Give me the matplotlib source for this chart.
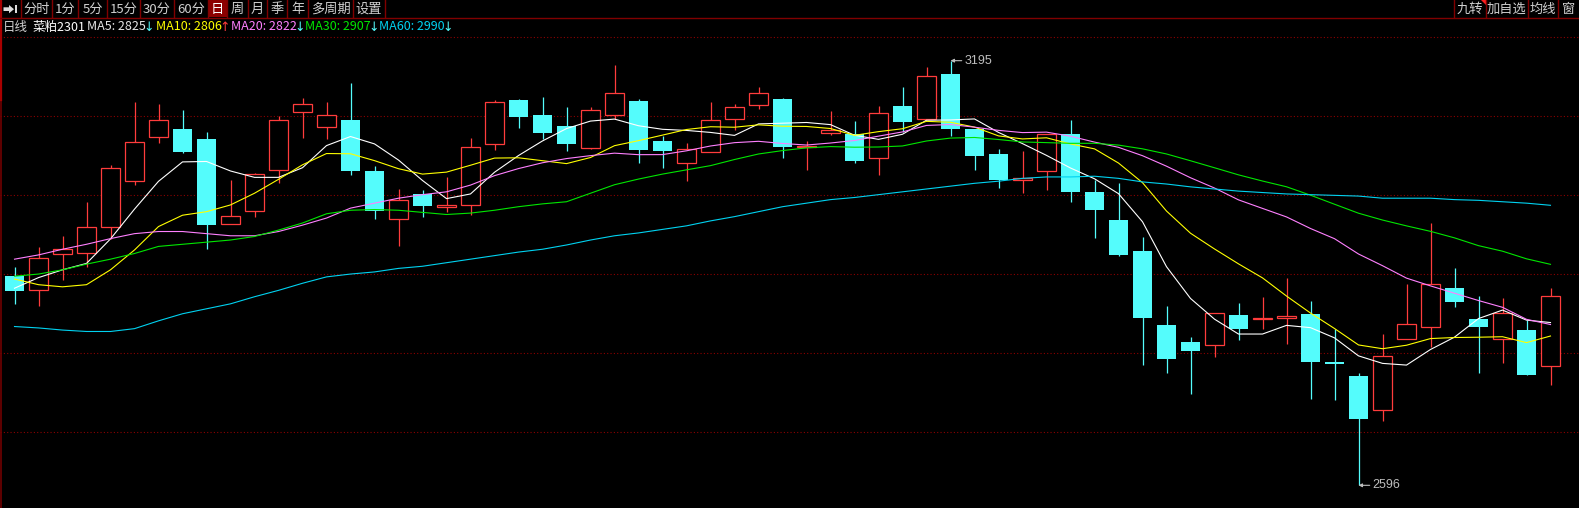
import matplotlib
matplotlib.use('Agg')
import matplotlib.pyplot as plt
import numpy as np
import pandas as pd
from matplotlib.patches import Rectangle, Polygon

plt.rcParams['font.family'] = ['Noto Sans CJK SC', 'DejaVu Sans']

# ---------------- data ----------------
opens = [2891, 2871, 2922, 2924, 2961, 3025, 3088, 3099, 3085, 2964,
         2983, 3041, 3122, 3102, 3111, 3039, 2971, 3007, 2988, 2992,
         3078, 3140, 3118, 3103, 3072, 3119, 3138, 3082, 3051, 3066,
         3113, 3132, 3141, 3073, 3093, 3092, 3058, 3131, 3113, 3176,
         3099, 3063, 3026, 3040, 3092, 3010, 2970, 2927, 2822, 2798,
         2794, 2836, 2831, 2832, 2838, 2770, 2750, 2702, 2802, 2819,
         2874, 2831, 2802, 2815, 2764]
highs = [2904, 2932, 2948, 2996, 3048, 3137, 3134, 3125, 3094, 3027,
         3037, 3117, 3142, 3136, 3164, 3046, 3014, 3013, 3031, 3086,
         3140, 3141, 3144, 3130, 3130, 3189, 3141, 3089, 3079, 3137,
         3134, 3158, 3142, 3082, 3124, 3110, 3131, 3158, 3186, 3195,
         3099, 3070, 3068, 3091, 3111, 3027, 3022, 2946, 2849, 2805,
         2839, 2853, 2862, 2888, 2856, 2816, 2755, 2810, 2880, 2966,
         2902, 2863, 2860, 2829, 2874]
lows = [2852, 2849, 2886, 2904, 2944, 3020, 3079, 3065, 2929, 2964,
        2974, 3022, 3086, 3085, 3034, 2971, 2933, 2975, 2982, 2978,
        3069, 3100, 3085, 3068, 3071, 3113, 3051, 3044, 3025, 3066,
        3097, 3127, 3058, 3041, 3090, 3051, 3034, 3094, 3113, 3089,
        3041, 3016, 3009, 3013, 2995, 2945, 2919, 2766, 2755, 2725,
        2777, 2801, 2816, 2796, 2718, 2717, 2596, 2687, 2802, 2791,
        2847, 2755, 2769, 2752, 2737]
closes = [2870, 2916, 2929, 2960, 3043, 3080, 3112, 3066, 2963, 2976,
          3035, 3112, 3134, 3119, 3040, 2983, 2998, 2990, 2991, 3073,
          3136, 3116, 3093, 3078, 3126, 3150, 3069, 3068, 3070, 3112,
          3129, 3150, 3073, 3075, 3097, 3054, 3121, 3109, 3174, 3099,
          3061, 3026, 3030, 3091, 3010, 2985, 2921, 2832, 2774, 2786,
          2839, 2816, 2832, 2835, 2770, 2767, 2689, 2779, 2823, 2880,
          2854, 2820, 2839, 2752, 2863]

# moving-average values before a full window exists
ma5_head = [2874, 2889, 2900, 2909]
ma10_head = [2887, 2879, 2876, 2879, 2900, 2928, 2961, 2977, 2982]
ma20_head = [2915, 2921, 2929, 2936, 2944, 2951, 2954, 2954, 2951, 2948,
             2948, 2954, 2963, 2973, 2987, 2994, 3001, 3006, 3010]
ma30_head = [2891, 2894, 2900, 2908, 2915, 2923, 2933, 2936, 2939, 2942,
             2947, 2956, 2966, 2979, 2984, 2985, 2984, 2981, 2978, 2980,
             2984, 2989, 2993, 2996, 3008, 3020, 3028, 3035, 3041]
ma60 = [2820, 2818, 2815, 2813, 2813, 2817, 2828, 2838, 2845, 2852,
        2862, 2871, 2881, 2890, 2894, 2897, 2902, 2905, 2910, 2915,
        2920, 2925, 2929, 2935, 2942, 2948, 2952, 2957, 2962, 2969,
        2975, 2982, 2989, 2994, 2999, 3002, 3006, 3010, 3014, 3018,
        3022, 3025, 3029, 3031, 3031, 3032, 3029, 3024, 3021, 3017,
        3014, 3011, 3009, 3007, 3006, 3005, 3004, 3001, 3001, 3001,
        2999, 2998, 2996, 2994, 2991]

toolbar_labels = ['分时', '1分', '5分', '15分', '30分', '60分', '日', '周', '月',
                  '季', '年', '多周期', '设置']
right_labels = ['九转', '加自选', '均线', '窗']
legend_items = [('MA5: 2825', '↓'), ('MA10: 2806', '↑'), ('MA20: 2822', '↓'),
                ('MA30: 2907', '↓'), ('MA60: 2990', '↓')]
title_period = '日线'
title_symbol = '菜粕2301'
high_label = '3195'
low_label = '2596'

# ---------------- styling ----------------
RED = '#FF3C3C'
CYAN = '#54FCFC'
MA_COLORS = ['#FFFFFF', '#FFFF00', '#FF80FF', '#00E600', '#00D2F0']
GRID = '#8C0000'
TXT = '#D0D0D0'
FS = 9.5
LFS = 9

W, H = 1579, 508
TOP = 36
fig = plt.figure(figsize=(W / 100, H / 100), dpi=100, facecolor='black')
ax = fig.add_axes([0, 0, 1, (H - TOP) / H])
ax.set_facecolor('black')
ax.axis('off')
n = len(closes)
ax.set_xlim(-14.5 / 24, (W - 14.5) / 24)
ax.set_ylim(2564.0, 3229.8)

# grid (dotted dark red) at sixths of the price area
for k in range(6):
    f = 1 - (k * 79 + 0.5) / (H - TOP)
    ax.plot([0, 1], [f, f], transform=ax.transAxes, color=GRID,
            lw=0.8, ls=(0, (1, 2)), clip_on=False, zorder=1)

# candles
bw = 0.78
o = np.array(opens, float)
h = np.array(highs, float)
l = np.array(lows, float)
c = np.array(closes, float)
for i in range(n):
    if c[i] >= o[i]:
        top_, bot = c[i], o[i]
        ax.vlines(i, top_, h[i], color=RED, lw=0.9, zorder=3)
        ax.vlines(i, l[i], bot, color=RED, lw=0.9, zorder=3)
        ax.add_patch(Rectangle((i - bw / 2, bot), bw, max(top_ - bot, 0.3),
                               facecolor='black', edgecolor=RED, lw=0.9, zorder=3))
    else:
        top_, bot = o[i], c[i]
        ax.vlines(i, l[i], h[i], color=CYAN, lw=0.9, zorder=3)
        ax.add_patch(Rectangle((i - bw / 2, bot), bw + 0.02, max(top_ - bot, 1.6),
                               facecolor=CYAN, edgecolor='none', zorder=3))

# moving averages
cs = pd.Series(closes, dtype=float)
heads = [ma5_head, ma10_head, ma20_head, ma30_head]
for win, head, col in zip([5, 10, 20, 30], heads, MA_COLORS[:4]):
    vals = cs.rolling(win).mean().to_numpy()
    vals[:len(head)] = head
    ax.plot(np.arange(n), vals, color=col, lw=0.8, zorder=4)
ax.plot(np.arange(n), ma60, color=MA_COLORS[4], lw=0.8, zorder=4)

# extreme labels
imax = int(np.argmax(h))
imin = int(np.argmin(l))
for idx, val, lab in [(imax, h[imax], high_label), (imin, l[imin], low_label)]:
    ax.annotate(lab, xy=(idx, val), xytext=(14, 0), textcoords='offset pixels',
                color='#BEBEBE', fontsize=9, ha='left', va='center',
                family=['Liberation Sans', 'DejaVu Sans'],
                arrowprops=dict(arrowstyle='-|>', color='#BEBEBE', lw=0.8,
                                shrinkA=0, shrinkB=0, mutation_scale=5), zorder=6)

# ---------------- overlay in pixel coords ----------------
ov = fig.add_axes([0, 0, 1, 1], zorder=10)
ov.set_xlim(0, W)
ov.set_ylim(H, 0)
ov.axis('off')
ov.patch.set_alpha(0)

DR = '#800000'
# left border
ov.plot([1, 1], [17, H], color='#700000', lw=1.2)
ov.plot([1, 1], [0, 100], color='#A80000', lw=1.6)
# toolbar bottom line
ov.plot([0, W], [17.5, 17.5], color=DR, lw=1.0)

seps = [20.7, 52, 78, 107, 140, 174, 208, 227, 248, 267, 287, 308, 353, 385]
ov.add_patch(Rectangle((208, 0), 19, 17, facecolor='#8C0000', edgecolor='none'))
for s in seps:
    ov.plot([s, s], [0, 17], color=DR, lw=1.0)
for a, b, lab in zip(seps[:-1], seps[1:], toolbar_labels):
    ov.text((a + b) / 2, 9, lab, color='white' if lab == '日' else TXT,
            fontsize=FS, ha='center', va='center')
# icon: arrow into bar
ov.add_patch(Polygon([(3.5, 7.3), (9, 7.3), (9, 5), (14, 9.2), (9, 13.3),
                      (9, 11), (3.5, 11)], closed=True, facecolor='#DCDCDC',
                     edgecolor='none'))
ov.add_patch(Rectangle((14.5, 5), 2.6, 8.3, facecolor='#DCDCDC', edgecolor='none'))

rseps = [1454.3, 1485.7, 1527.7, 1557.7, W]
for s in rseps[:-1]:
    ov.plot([s, s], [0, 17], color=DR, lw=1.0)
for a, b, lab in zip(rseps[:-1], rseps[1:], right_labels):
    ov.text((a + b) / 2, 9, lab, color=TXT, fontsize=FS, ha='center', va='center')
ov.add_patch(Polygon([(1480.5, 0), (1485.5, 0), (1485.5, 5)], closed=True,
                     facecolor='#FF2020', edgecolor='none'))

# legend row
ly = 27
renderer = fig.canvas.get_renderer()
ov.text(2.5, ly, title_period, color=TXT, fontsize=LFS, ha='left', va='center')
ov.text(33, ly, title_symbol, color='white', fontsize=LFS, ha='left', va='center')
lx = [87, 156, 231, 305, 379]
arrow_cols = {'↓': CYAN, '↑': RED}
for (txt, arr), x0, col in zip(legend_items, lx, MA_COLORS):
    t = ov.text(x0, ly, txt, color=col if col != '#FFFFFF' else '#E6E6E6',
                fontsize=LFS, ha='left', va='center')
    x_end = t.get_window_extent(renderer).x1
    ov.text(x_end - 2.0, ly + 0.5, arr, color=arrow_cols[arr], fontsize=LFS,
            ha='left', va='center', family=['DejaVu Sans'])

fig.savefig('out.png', dpi=100, facecolor='black')
